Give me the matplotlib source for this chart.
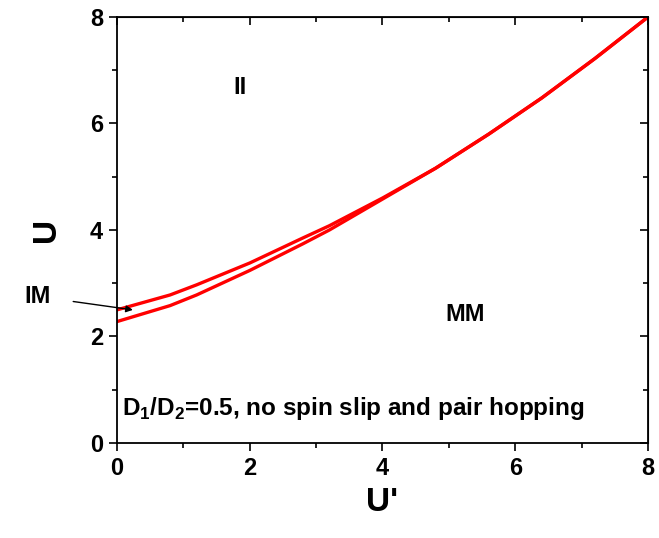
import matplotlib
matplotlib.use("Agg")
import matplotlib.pyplot as plt
from matplotlib.ticker import MultipleLocator

plt.rcParams['font.family'] = ['Liberation Sans', 'DejaVu Sans']
plt.rcParams['font.weight'] = 'bold'
plt.rcParams['mathtext.fontset'] = 'custom'
plt.rcParams['mathtext.bf'] = 'Liberation Sans:bold'
plt.rcParams['mathtext.rm'] = 'Liberation Sans:bold'

# phase boundaries (II / IM / MM)
up_x = [0.0, 0.8, 1.2, 2.0, 2.8, 3.2, 4.0, 4.8, 5.6, 6.4, 7.2, 8.0]
up_y = [2.50, 2.78, 2.97, 3.38, 3.85, 4.08, 4.60, 5.16, 5.80, 6.48, 7.22, 8.0]
low_x = [0.0, 0.8, 1.2, 2.0, 2.8, 3.2, 4.0, 4.8, 5.6, 6.4, 7.2, 8.0]
low_y = [2.28, 2.58, 2.78, 3.24, 3.74, 4.00, 4.58, 5.16, 5.80, 6.48, 7.22, 8.0]

fig = plt.figure(figsize=(6.59, 5.38), dpi=100)
ax = fig.add_axes([0.1775, 0.1766, 0.8058, 0.7918])

ax.plot(up_x, up_y, color='red', lw=2.4)
ax.plot(low_x, low_y, color='red', lw=2.4)

ax.set_xlim(0, 8)
ax.set_ylim(0, 8)
ax.xaxis.set_major_locator(MultipleLocator(2))
ax.xaxis.set_minor_locator(MultipleLocator(1))
ax.yaxis.set_major_locator(MultipleLocator(2))
ax.yaxis.set_minor_locator(MultipleLocator(1))
ax.tick_params(which='major', direction='out', length=6, width=1.2, labelsize=17, pad=4)
ax.tick_params(which='minor', direction='out', length=3.5, width=1.2)
for s in ax.spines.values():
    s.set_linewidth(1.3)

# mirror ticks on top/right pointing inward, no labels
top = ax.secondary_xaxis('top')
right = ax.secondary_yaxis('right')
for a in (top.xaxis, right.yaxis):
    a.set_major_locator(MultipleLocator(2))
    a.set_minor_locator(MultipleLocator(1))
top.tick_params(which='both', direction='in', width=1.2, labeltop=False)
right.tick_params(which='both', direction='in', width=1.2, labelright=False)
top.tick_params(which='major', length=6)
top.tick_params(which='minor', length=3.5)
right.tick_params(which='major', length=6)
right.tick_params(which='minor', length=3.5)

ax.set_xlabel("U'", fontsize=24, fontweight='bold', labelpad=5)
ax.set_ylabel("U", fontsize=24, fontweight='bold', labelpad=20)

ax.text(1.85, 6.67, "II", fontsize=17, fontweight='bold', ha='center', va='center')
ax.text(5.25, 2.42, "MM", fontsize=17, fontweight='bold', ha='center', va='center')
ax.annotate("IM", xy=(0.24, 2.5), xytext=(-1.19, 2.75), fontsize=17, fontweight='bold',
            ha='center', va='center', annotation_clip=False,
            arrowprops=dict(arrowstyle='-|>', color='black', lw=1, shrinkA=14, shrinkB=0,
                            mutation_scale=10))
ax.text(0.08, 0.64, r"D$_\mathbf{1}$/D$_\mathbf{2}$=0.5, no spin slip and pair hopping",
        fontsize=17.5, fontweight='bold', ha='left', va='center')

fig.savefig("out.png", dpi=100)
